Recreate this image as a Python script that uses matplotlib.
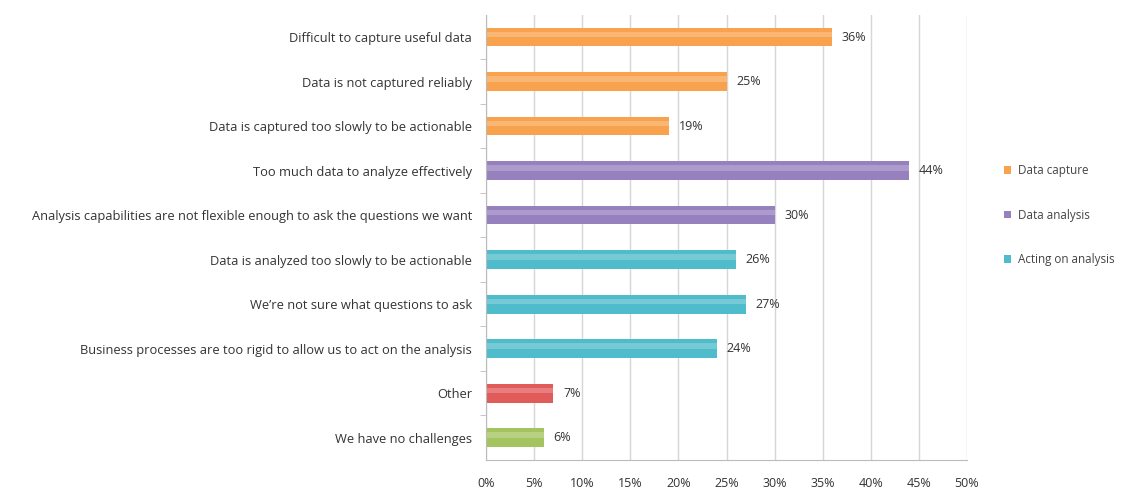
import matplotlib.pyplot as plt
from matplotlib.patches import Patch

plt.rcParams['font.family'] = ['Open Sans', 'DejaVu Sans']

labels = [
    'Difficult to capture useful data',
    'Data is not captured reliably',
    'Data is captured too slowly to be actionable',
    'Too much data to analyze effectively',
    'Analysis capabilities are not flexible enough to ask the questions we want',
    'Data is analyzed too slowly to be actionable',
    "We\u2019re not sure what questions to ask",
    'Business processes are too rigid to allow us to act on the analysis',
    'Other',
    'We have no challenges',
]
values = [36, 25, 19, 44, 30, 26, 27, 24, 7, 6]
groups = ['capture', 'capture', 'capture', 'analysis', 'analysis',
          'acting', 'acting', 'acting', 'other', 'none']

colors = {
    'capture': '#F9A24E',
    'analysis': '#9680BE',
    'acting': '#4FBCCB',
    'other': '#E25B5B',
    'none': '#A3C45E',
}
legend_names = [('capture', 'Data capture'), ('analysis', 'Data analysis'),
                ('acting', 'Acting on analysis')]

fig = plt.figure(figsize=(11.45, 4.92), dpi=100)
ax = fig.add_axes([0.4245, 0.065, 0.42, 0.905])

ypos = list(range(len(labels)))[::-1]
bar_colors = [colors[g] for g in groups]
ax.barh(ypos, values, height=0.42, color=bar_colors, linewidth=0)
# soft highlight for a bit of the glossy look
ax.barh([y + 0.06 for y in ypos], values, height=0.12, color='white',
        alpha=0.22, linewidth=0)

for y, v in zip(ypos, values):
    ax.text(v + 1.0, y, f'{v}%', va='center', ha='left', fontsize=9,
            color='#333333')

ax.set_xlim(0, 50)
ax.set_ylim(-0.5, len(labels) - 0.5)
ax.set_xticks(range(0, 51, 5))
ax.set_xticklabels([f'{t}%' for t in range(0, 51, 5)], fontsize=9,
                   color='#333333')
ax.set_yticks(ypos)
ax.set_yticklabels(labels, fontsize=9.3, color='#333333')
ax.tick_params(axis='y', length=0, pad=10)
ax.tick_params(axis='x', length=0, pad=12)
ax.set_yticks([y - 0.5 for y in range(1, len(labels))], minor=True)
ax.tick_params(axis='y', which='minor', length=4, color='#BBBBBB')

ax.grid(axis='x', color='#D6D6D6', linewidth=1)
ax.set_axisbelow(True)
for s in ['top', 'right']:
    ax.spines[s].set_visible(False)
ax.spines['left'].set_color('#BBBBBB')
ax.spines['bottom'].set_color('#BBBBBB')

handles = [Patch(facecolor=colors[k], label=n) for k, n in legend_names]
fig.legend(handles=handles, loc='center left', bbox_to_anchor=(0.868, 0.563),
           frameon=False, fontsize=8.4, labelspacing=2.7, handlelength=0.6,
           handleheight=0.6, handletextpad=0.6, labelcolor='#444444')

fig.savefig('out.png', dpi=100)
